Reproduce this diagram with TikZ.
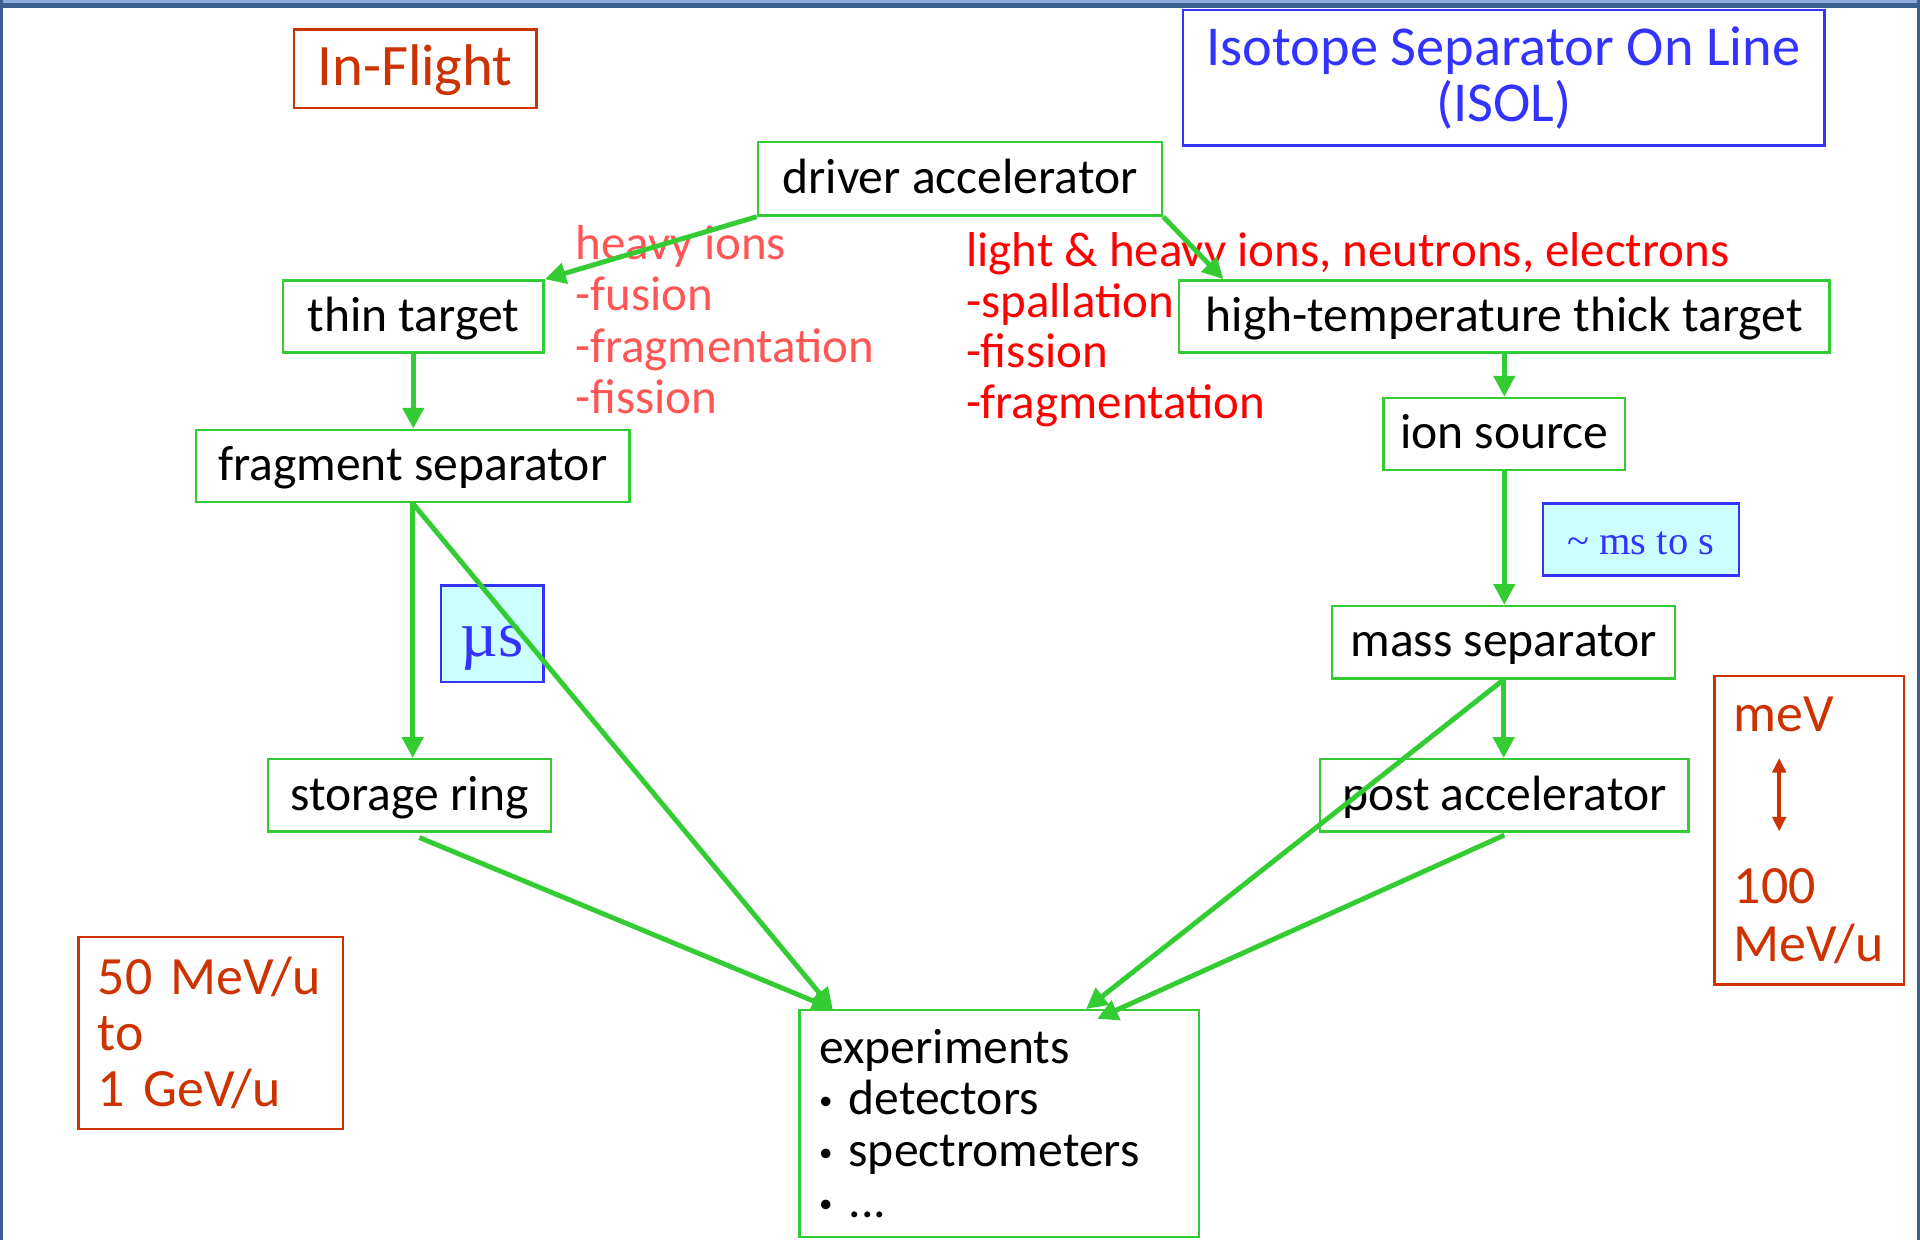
\documentclass[tikz,border=0pt]{standalone}
\usepackage{fontspec}
\setmainfont{Carlito}
\newfontfamily\timesf{Liberation Serif}
\usetikzlibrary{arrows.meta}
\definecolor{gr}{HTML}{33CC33}
\definecolor{orng}{HTML}{CC3300}
\definecolor{isoblue}{HTML}{3333FF}
\definecolor{pinkred}{HTML}{FF5555}
\definecolor{purered}{HTML}{FF0000}
\definecolor{cyanfill}{HTML}{CCFFFF}
\definecolor{framedark}{HTML}{3C5F8F}
\definecolor{framelight}{HTML}{8FAADC}
\newcommand{\smallbullet}{\makebox[24pt][l]{\raisebox{4pt}{\fontsize{22}{22}\selectfont •}}}
\newcommand{\lowered}[2]{\raisebox{-#1}[0pt][0pt]{#2}}
\tikzset{
  gbox/.style={draw=gr, line width=2pt, inner sep=0pt, text=black,
    font=\fontsize{40.5}{42}\selectfont},
  obox/.style={draw=orng, line width=2pt, inner sep=0pt, text=orng},
  bbox/.style={draw=isoblue, line width=2pt, inner sep=0pt, text=isoblue},
  tbox/.style={draw=isoblue, fill=cyanfill, line width=2pt, inner sep=0pt, text=isoblue},
  flow/.style={draw=gr, line width=4pt, -{Triangle[length=17pt,width=17pt]}},
  redlab/.style={inner sep=0pt, align=left, font=\fontsize{40}{41.8}\selectfont},
}
\begin{document}
\begin{tikzpicture}[x=1pt,y=-1pt]
\useasboundingbox (0,0) rectangle (1568,1013);
\fill[white] (0,0) rectangle (1568,1013);

% title boxes
\node[obox, minimum width=198pt, minimum height=64pt, font=\fontsize{48}{48}\selectfont] (inflight) at (339,56) {\lowered{14pt}{In-Flight}};
\node[bbox, minimum width=524pt, minimum height=111pt, align=center, font=\fontsize{46}{46}\selectfont] (isol) at (1228,63.5) {Isotope Separator On Line\\(ISOL)};

% process boxes
\node[gbox, minimum width=330pt, minimum height=60pt] (driver) at (784,146) {\lowered{12pt}{driver accelerator}};
\node[gbox, minimum width=213pt, minimum height=59pt] (thin) at (337.5,258.5) {\lowered{12pt}{thin target}};
\node[gbox, minimum width=531pt, minimum height=59pt] (hot) at (1228.5,258.5) {\lowered{12pt}{high-temperature thick target}};
\node[gbox, minimum width=354pt, minimum height=59pt] (fragsep) at (337,380.5) {\lowered{12pt}{fragment separator}};
\node[gbox, minimum width=197pt, minimum height=59pt] (ionsrc) at (1228.5,354.5) {\lowered{12pt}{ion source}};
\node[gbox, minimum width=280pt, minimum height=59pt] (masssep) at (1228,524.5) {\lowered{12pt}{mass separator}};
\node[gbox, minimum width=231pt, minimum height=59pt] (storage) at (334.5,649.5) {\lowered{12pt}{storage ring}};
\node[gbox, minimum width=301pt, minimum height=59pt] (post) at (1228.5,649.5) {\lowered{12pt}{post accelerator}};
\node[gbox, minimum height=185pt, text width=294pt, inner xsep=16pt, align=left] (exp) at (816,917.5)
  {experiments\\\smallbullet detectors\\\smallbullet spectrometers\\\smallbullet ...};

% time boxes
\node[tbox, minimum width=160pt, minimum height=59pt, font=\timesf\fontsize{33}{33}\selectfont] (mstos) at (1340,440.5) {\lowered{12.5pt}{\textasciitilde{} ms to s}};
\node[tbox, minimum width=84pt, minimum height=79pt, font=\timesf\fontsize{53}{53}\selectfont] (mus) at (402,517.5) {\lowered{19pt}{µs}};

% energy boxes
\node[obox, minimum height=157pt, text width=184pt, inner xsep=16pt, align=left, font=\fontsize{44}{46}\selectfont] (fifty) at (172,843.5)
  {50 MeV/u\\to\\1 GeV/u};
\node[obox, minimum height=252pt, text width=123pt, inner xsep=16pt, align=left, font=\fontsize{44}{47}\selectfont] (mev) at (1477.5,678)
  {meV\\[94pt]100\\MeV/u};
\coordinate (mevA) at (1453,619);
\coordinate (mevB) at (1453,679);
\draw[orng, line width=3pt, {Triangle[length=12pt,width=11pt]}-{Triangle[length=12pt,width=11pt]}] (mevA) -- (mevB);

% reaction labels (anchored at the baseline of the last line)
\node[redlab, text=pinkred, anchor=base west] (lefttext) at (470,337.5)
  {heavy ions\\-fusion\\-fragmentation\\-fission};
\node[redlab, text=purered, anchor=base west, font=\fontsize{40}{41.2}\selectfont] (righttext) at (789,341.6)
  {light \& heavy ions, neutrons, electrons\\-spallation\\-fission\\-fragmentation};

% connectors
\draw[flow] (driver.south west) -- (thin.north east);
\draw[flow] (driver.south east) -- ([xshift=37pt]hot.north west);
\draw[flow] (thin.south) -- (thin.south |- fragsep.north);
\draw[flow] (fragsep.south) -- (fragsep.south |- storage.north);
\draw[flow] (fragsep.south) -- ([xshift=28pt]exp.north west);
\draw[flow] ([xshift=8pt,yshift=-4pt]storage.south) -- ([xshift=28pt]exp.north west);
\draw[flow] (hot.south) -- (hot.south |- ionsrc.north);
\draw[flow] (ionsrc.south) -- (ionsrc.south |- masssep.north);
\draw[flow] (masssep.south) -- (masssep.south |- post.north);
\draw[flow] (masssep.south) -- ([xshift=235pt]exp.north west);
\draw[flow] ([yshift=-2pt]post.south) -- ([xshift=244pt,yshift=-8pt]exp.north west);

% slide frame
\fill[framelight] (0,0) rectangle (1568,2.5);
\fill[framedark] (0,2.5) rectangle (1568,6.5);
\fill[framedark] (0,0) rectangle (2.5,1013);
\fill[framedark] (1565.5,0) rectangle (1568,1013);
\end{tikzpicture}
\end{document}
